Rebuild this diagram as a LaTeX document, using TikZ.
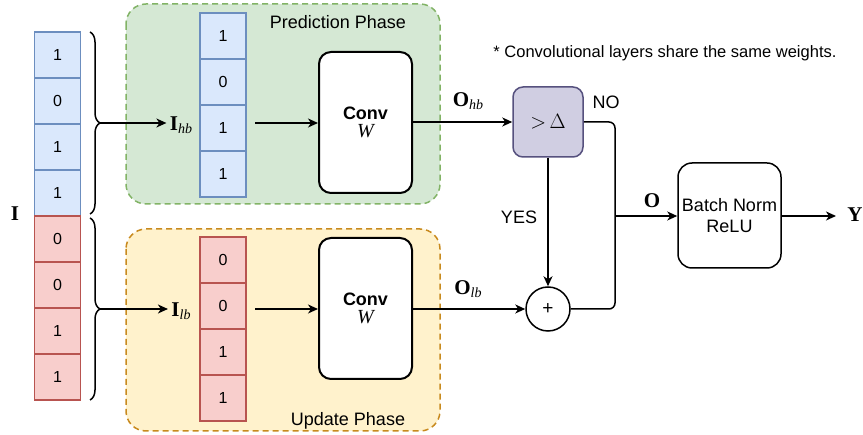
\documentclass[tikz,border=0pt]{standalone}
\usepackage{fontspec}
\setmainfont{Liberation Sans}
\newfontfamily\tms{Liberation Serif}
\usetikzlibrary{arrows.meta,decorations.pathreplacing,calc}

\definecolor{bluefill}{HTML}{DAE8FC}
\definecolor{bluedraw}{HTML}{6C8EBF}
\definecolor{redfill}{HTML}{F8CECC}
\definecolor{reddraw}{HTML}{B85450}
\definecolor{greenfill}{HTML}{D5E8D4}
\definecolor{greendraw}{HTML}{82B366}
\definecolor{yellowfill}{HTML}{FFF2CC}
\definecolor{orangedraw}{HTML}{C88A1E}
\definecolor{purplefill}{HTML}{D0CEE2}
\definecolor{purpledraw}{HTML}{56517E}

% bold serif symbol with an italic subscript
\newcommand{\symlab}[2]{{\fontsize{21}{23}\selectfont\tms\bfseries #1}\raisebox{-0.35ex}{\fontsize{14}{14}\selectfont\tms\itshape #2}}

\tikzset{
  txt/.style={font=\fontsize{18}{21}\selectfont},
  bigsym/.style={font=\fontsize{21}{23}\selectfont\tms\bfseries},
  cell/.style={minimum width=46pt, minimum height=46pt, inner sep=0pt,
    line width=1.5pt, font=\fontsize{16}{18}\selectfont},
  bluecell/.style={cell, fill=bluefill, draw=bluedraw},
  redcell/.style={cell, fill=redfill, draw=reddraw},
  phase/.style={line width=1.5pt, dash pattern=on 6pt off 4pt, rounded corners=20pt},
  convbox/.style={draw, line width=2pt, rounded corners=12pt, fill=white,
    minimum width=93pt, minimum height=141pt, align=center, inner sep=0pt,
    font=\fontsize{18}{20}\selectfont},
  conn/.style={line width=1.5pt},
  arr/.style={conn, -{Stealth[length=10pt,width=9pt,inset=3pt]}},
  curly/.style={line width=1.5pt, decorate, decoration={brace, amplitude=10pt}},
}

\begin{document}
\begin{tikzpicture}[x=1pt, y=-1pt]
\path[use as bounding box] (0,0) rectangle (863,435);

% phase panels
\draw[phase, fill=greenfill, draw=greendraw] (126,4) rectangle (440,204);
\draw[phase, fill=yellowfill, draw=orangedraw] (126,229) rectangle (440,431);
\node[txt] (predlab) at (338,22) {Prediction Phase};
\node[txt] (updlab) at (348,421) {Update Phase};

% full input column
\foreach \v [count=\k] in {1,0,1,1} {
  \node[bluecell] (l\k) at (57.5, 9+46*\k) {\v};
}
\foreach \v [count=\k, evaluate=\k as \m using int(\k+4)] in {0,0,1,1} {
  \node[redcell] (l\m) at (57.5, 193+46*\k) {\v};
}
\node[bigsym] (Ilab) at (15,214) {I};

% braces splitting the input
\draw[curly] (90,32) -- (90,214);
\draw[curly] (90,218) -- (90,400);
\coordinate (tipH) at (100,123);
\coordinate (tipL) at (100,309);

% split columns
\foreach \v [count=\k] in {1,0,1,1} {
  \node[bluecell] (g\k) at (223, -10+46*\k) {\v};
}
\foreach \v [count=\k] in {0,0,1,1} {
  \node[redcell] (r\k) at (223, 214+46*\k) {\v};
}

\node[txt] (Ihb) at (181,125) {\symlab{I}{hb}};
\node[txt] (Ilb) at (181,311) {\symlab{I}{lb}};
\draw[arr] (tipH) -- (Ihb.west |- tipH);
\draw[arr] (tipL) -- (Ilb.west |- tipL);

% convolutions
\node[convbox] (conv1) at (365.5,122.5) {\textbf{Conv}\\[-2pt]{\fontsize{20}{20}\selectfont\tms\itshape W}};
\node[convbox] (conv2) at (365.5,308.5) {\textbf{Conv}\\[-2pt]{\fontsize{20}{20}\selectfont\tms\itshape W}};
\coordinate (inH) at (255,123);
\coordinate (inL) at (255,309);
\draw[arr] (inH) -- (conv1.west |- inH);
\draw[arr] (inL) -- (conv2.west |- inL);

% threshold and merge
\node[draw=purpledraw, fill=purplefill, line width=1.5pt, rounded corners=10pt,
  minimum width=70pt, minimum height=70pt, inner sep=0pt,
  font=\fontsize{21}{23}\selectfont\tms] (thr) at (548,122) {$>$\,$\Delta$};
\node[circle, draw, line width=1.5pt, minimum size=44pt, inner sep=0pt,
  font=\fontsize{19}{21}\selectfont] (plus) at (548,309) {+};

\draw[arr] (conv1.east |- thr) -- (thr.west);
\draw[arr] (conv2.east |- plus) -- (plus.west);
\node[txt] (Ohb) at (468,101) {\symlab{O}{hb}};
\node[txt] (Olb) at (468,289) {\symlab{O}{lb}};

\draw[arr] (thr.south) -- (plus.north);
\node[txt] (yes) at (519,217) {YES};
\node[txt] (no) at (606,102) {NO};

\coordinate (join) at (615,216);
\draw[conn, rounded corners=6pt] (thr.east) -- (615,122) -- (615,309) -- (plus.east);

% output stage
\node[draw, line width=1.5pt, rounded corners=14pt, minimum width=103pt,
  minimum height=105pt, align=center, inner sep=0pt,
  font=\fontsize{18}{21}\selectfont] (bn) at (729.5,215.5) {Batch Norm\\ReLU};
\draw[arr] (join) -- (bn.west |- join);
\node[bigsym] (Olab) at (652,201) {O};
\coordinate (yend) at (836,216);
\draw[arr] (bn.east |- yend) -- (yend);
\node[bigsym] (Ylab) at (855,215) {Y};

\node[font=\fontsize{16.5}{19}\selectfont] (note) at (665,53)
  {* Convolutional layers share the same weights.};
\end{tikzpicture}
\end{document}
